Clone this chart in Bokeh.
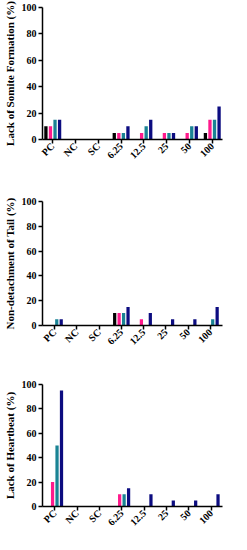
import math
from bokeh.plotting import figure
from bokeh.layouts import column
from bokeh.models import FixedTicker, ColumnDataSource, Range1d
from bokeh.transform import dodge
from bokeh.embed import file_html
from bokeh.resources import INLINE

categories = ["PC", "NC", "SC", "6.25", "12.5", "25", "50", "100"]
series_colors = ["#000000", "#FF1A8C", "#1A8394", "#0C0C80"]
y_ticks = [0, 20, 40, 60, 80, 100]

somite_black = [10, 0, 0, 5, 0, 0, 0, 5]
somite_pink = [10, 0, 0, 5, 5, 5, 5, 15]
somite_teal = [15, 0, 0, 5, 10, 5, 10, 15]
somite_navy = [15, 0, 0, 10, 15, 5, 10, 25]

tail_black = [0, 0, 0, 10, 0, 0, 0, 0]
tail_pink = [0, 0, 0, 10, 5, 0, 0, 0]
tail_teal = [5, 0, 0, 10, 0, 0, 0, 5]
tail_navy = [5, 0, 0, 15, 10, 5, 5, 15]

heart_black = [0, 0, 0, 0, 0, 0, 0, 0]
heart_pink = [20, 0, 0, 10, 0, 0, 0, 0]
heart_teal = [50, 0, 0, 10, 0, 0, 0, 0]
heart_navy = [95, 0, 0, 15, 10, 5, 5, 10]

FONT = "Liberation Serif"
OFFSETS = [-0.3, -0.1, 0.1, 0.3]


def make_panel(label, series, xr, height, bl, br, bt, bb):
    data = {"x": list(range(len(categories)))}
    for k, s in enumerate(series):
        data["s%d" % k] = s
    src = ColumnDataSource(data)
    p = figure(width=231, height=height, x_range=Range1d(*xr), y_range=Range1d(0, 100),
               output_backend="svg", toolbar_location=None,
               min_border_left=bl, min_border_right=br, min_border_top=bt, min_border_bottom=bb)
    for k in range(len(series)):
        p.vbar(x=dodge("x", OFFSETS[k], range=p.x_range), top="s%d" % k, width=0.145,
               source=src, fill_color=series_colors[k], line_color=None)
    p.xgrid.grid_line_color = None
    p.ygrid.grid_line_color = None
    p.outline_line_color = None

    p.xaxis.ticker = FixedTicker(ticks=list(range(len(categories))))
    p.xaxis.major_label_overrides = {i: c for i, c in enumerate(categories)}
    p.xaxis.major_label_orientation = math.pi / 4
    p.xaxis.major_label_standoff = 1
    p.yaxis.ticker = FixedTicker(ticks=y_ticks)
    p.yaxis.major_label_standoff = 2
    p.yaxis.axis_label = label
    p.yaxis.axis_label_standoff = 3
    p.yaxis.axis_label_text_font = FONT
    p.yaxis.axis_label_text_font_style = "bold"
    p.yaxis.axis_label_text_font_size = "11px"
    p.yaxis.axis_label_text_color = "#000000"
    for ax in (p.xaxis, p.yaxis):
        ax.major_label_text_font = FONT
        ax.major_label_text_font_style = "bold"
        ax.major_label_text_font_size = "10px"
        ax.major_label_text_color = "#000000"
        ax.axis_line_width = 1.5
        ax.axis_line_color = "#000000"
        ax.major_tick_line_width = 1.5
        ax.major_tick_line_color = "#000000"
        ax.major_tick_in = 0
        ax.major_tick_out = 4
        ax.minor_tick_line_color = None
    return p


p1 = make_panel("Lack of Somite Formation (%)",
                [somite_black, somite_pink, somite_teal, somite_navy],
                (-0.45, 7.45), 172, 39, 2, 7, 33)
p2 = make_panel("Non-detachment of Tail (%)",
                [tail_black, tail_pink, tail_teal, tail_navy],
                (-0.54, 7.54), 181, 34, 9, 29, 28)
p3 = make_panel("Lack of Heartbeat (%)",
                [heart_black, heart_pink, heart_teal, heart_navy],
                (-0.55, 7.5), 181, 35, 4, 31, 24)

layout = column(p1, p2, p3, spacing=0)
open("out.html", "w").write(file_html(layout, INLINE))
